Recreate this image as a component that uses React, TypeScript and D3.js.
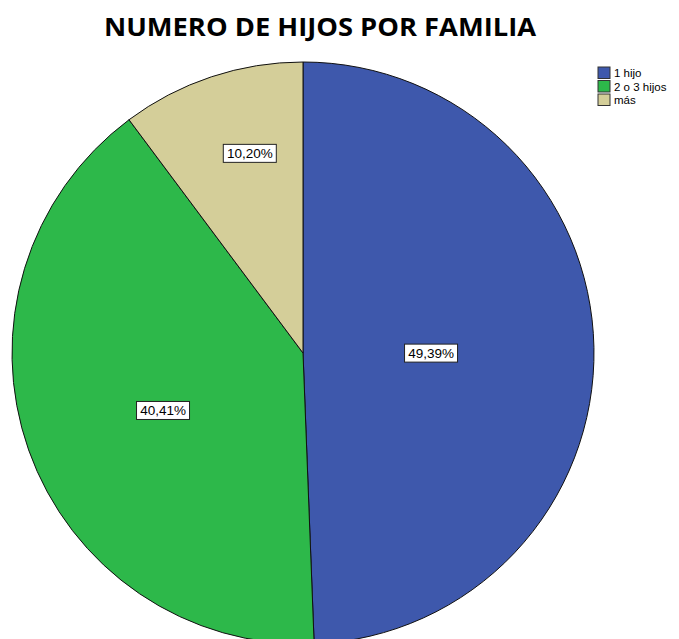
import React from "react";
import * as d3 from "d3";

const categories = ["1 hijo", "2 o 3 hijos", "más"];
const values = [49.39, 40.41, 10.2];
const labels = ["49,39%", "40,41%", "10,20%"];
const colors = ["#3e58ac", "#2db84a", "#d4ce99"];
const labelRadiusFrac = [0.44, 0.52, 0.71];
const labelAngleShift = [0.02, -0.05, 0.06];

export default function App() {
  const W = 679, H = 639;
  const cx = 303, cy = 353, R = 291;
  const pie = d3.pie<number>().sort(null).value((d) => d)(values);
  const arc = d3.arc<d3.PieArcDatum<number>>().innerRadius(0).outerRadius(R);
  return (
    <svg width={W} height={H} style={{ position: "absolute", left: 0, top: 0 }}>
      <rect width={W} height={H} fill="#fff" />
      <g transform={`translate(${cx},${cy})`}>
        {pie.map((p, i) => (
          <path key={i} d={arc(p) || ""} fill={colors[i]} stroke="#111" strokeWidth={1} />
        ))}
        {pie.map((p, i) => {
          const a = (p.startAngle + p.endAngle) / 2 + labelAngleShift[i];
          const r = R * labelRadiusFrac[i];
          const x = r * Math.sin(a);
          const y = -r * Math.cos(a);
          const w = 53, h = 18;
          return (
            <g key={"l" + i} transform={`translate(${x},${y})`}>
              <rect x={-w / 2} y={-h / 2} width={w} height={h} fill="#fff" stroke="#222" strokeWidth={1} />
              <text x={0} y={4.5} textAnchor="middle" fontFamily="Liberation Sans, Arial, sans-serif" fontSize={13.5} fill="#000">
                {labels[i]}
              </text>
            </g>
          );
        })}
      </g>
      <text x={320} y={36} textAnchor="middle" fontFamily="'Open Sans', Lato, sans-serif" fontWeight="bold" fontSize={25} textLength={432} lengthAdjust="spacingAndGlyphs" fill="#000">
        NUMERO DE HIJOS POR FAMILIA
      </text>
      <g transform="translate(598,67)">
        {categories.map((c, i) => (
          <g key={c} transform={`translate(0,${i * 13.5})`}>
            <rect x={0} y={0} width={12} height={11.5} fill={colors[i]} stroke="#333" strokeWidth={1} />
            <text x={16} y={10} fontFamily="Liberation Sans, Arial, sans-serif" fontSize={11.5} fill="#000">
              {c}
            </text>
          </g>
        ))}
      </g>
    </svg>
  );
}
